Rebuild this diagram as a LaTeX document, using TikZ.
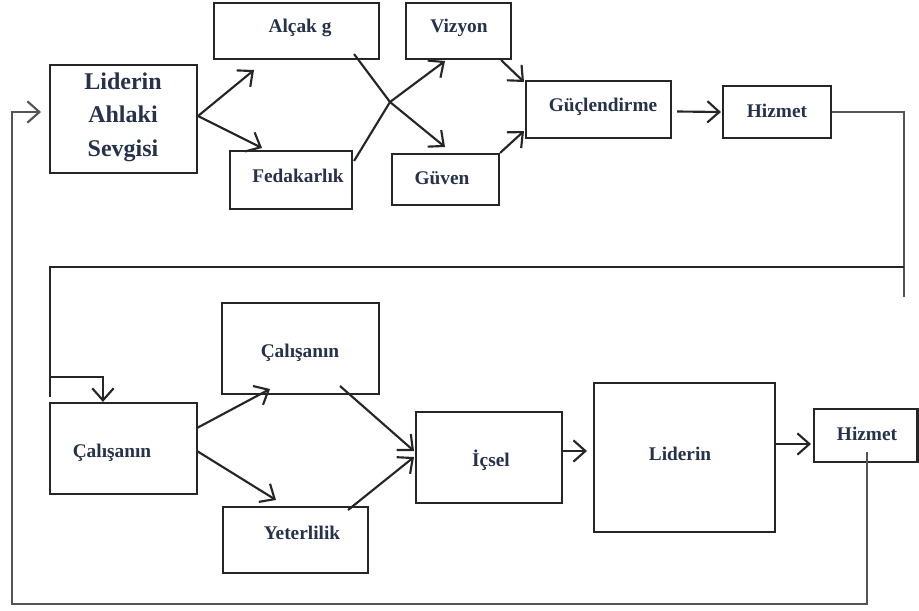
\documentclass[tikz,border=0pt]{standalone}
\usepackage{fontspec}
\setmainfont{Liberation Serif}
\usetikzlibrary{arrows.meta,fit,calc}
\definecolor{boxcol}{HTML}{262626}
\definecolor{loopcol}{HTML}{555555}
\definecolor{txtcol}{HTML}{26324A}
\begin{document}
\begin{tikzpicture}[x=0.75pt,y=-0.75pt,
  box/.style={draw=boxcol, line width=1.6pt, inner sep=0pt, fit={#1}},
  lbl/.style={text=txtcol, font=\fontsize{14.5}{17}\selectfont\bfseries, inner sep=0pt},
  biglbl/.style={text=txtcol, font=\fontsize{18}{25}\selectfont\bfseries, inner sep=0pt, align=center},
  arr/.style={draw=boxcol, line width=1.6pt, -{Straight Barb[length=9pt,width=16pt,line width=1.6pt]}},
  ln/.style={draw=boxcol, line width=1.6pt},
  loop/.style={draw=loopcol, line width=1.9pt},
  looparr/.style={draw=loopcol, line width=1.9pt, -{Straight Barb[length=9pt,width=16pt,line width=1.6pt]}}
]
\useasboundingbox (0,0) rectangle (919,610);
\fill[white] (0,0) rectangle (919,610);

% boxes
\node[box={(50,65) (197,173)}] (lider) {};
\node[box={(214,3) (379,59)}] (alcak) {};
\node[box={(230,151) (352,209)}] (feda) {};
\node[box={(406,3) (511,59)}] (vizyon) {};
\node[box={(392,154) (499,205)}] (guven) {};
\node[box={(526,81) (671,138)}] (guc) {};
\node[box={(723,86) (831,138)}] (hizmetA) {};
\node[box={(50,403) (197,494)}] (calA) {};
\node[box={(222,303) (379,394)}] (calB) {};
\node[box={(223,507) (368,573)}] (yeter) {};
\node[box={(416,412) (562,503)}] (icsel) {};
\node[box={(594,383) (775,532)}] (liderB) {};
\node[box={(814,409) (917.5,462)}] (hizmetB) {};

% labels
\node[biglbl] (liderT) at (123,117) {Liderin\\Ahlaki\\Sevgisi};
\node[lbl] (alcakT) at (300,28) {Alçak g};
\node[lbl] (fedaT) at (298,176) {Fedakarlık};
\node[lbl] (vizyonT) at (459,28) {Vizyon};
\node[lbl] (guvenT) at (442,178) {Güven};
\node[lbl] (gucT) at (603,107) {Güçlendirme};
\node[lbl] (hizmetAT) at (777,111) {Hizmet};
\node[lbl] (calAT) at (112,453) {Çalışanın};
\node[lbl] (calBT) at (300,353) {Çalışanın};
\node[lbl] (yeterT) at (302,533) {Yeterlilik};
\node[lbl] (icselT) at (491,460) {İçsel};
\node[lbl] (liderBT) at (680,454) {Liderin};
\node[lbl] (hizmetBT) at (867,434) {Hizmet};

% named points
\coordinate (src1) at ($(lider.east)+(0,-3)$);
\coordinate (tAlcak) at (254,70);
\coordinate (tFeda) at (262,148);
\coordinate (oAlcak) at ($(alcak.south east)+(-26,-6)$);
\coordinate (oFeda) at ($(feda.north east)+(1,11)$);
\coordinate (X) at (390,102);
\coordinate (tViz) at (445,61);
\coordinate (tGuv) at (445,147);
\coordinate (oViz) at ($(vizyon.south east)+(-11,0)$);
\coordinate (oGuv) at (guven.north east);
\coordinate (tGuc1) at (524,82);
\coordinate (tGuc2) at (524,131);
\coordinate (oGuc) at ($(guc.east)+(5,2)$);
\coordinate (tHiz) at ($(hizmetA.west)+(-1,0)$);
\coordinate (R1) at (904,112);
\coordinate (R2) at (904,297);
\coordinate (H1) at (904,267);
\coordinate (H2) at (50,267);
\coordinate (H3) at (50,397);
\coordinate (B1) at (50,377);
\coordinate (B2) at ($(calA.north west)+(54,-26)$);
\coordinate (oCalA1) at (197,428);
\coordinate (oCalA2) at (197,451);
\coordinate (tCalB) at (270,389);
\coordinate (tYet) at (276,500);
\coordinate (oCalB) at (340,386);
\coordinate (oYet) at (348,510);
\coordinate (tIc1) at (414,451);
\coordinate (tIc2) at (414,457);
\coordinate (oIc) at (562,451);
\coordinate (tLid) at (587,451);
\coordinate (oLid) at (775,444);
\coordinate (tHizB) at (811,444);
\coordinate (oHizB) at (867,452);
\coordinate (L1) at (867,604);
\coordinate (L2) at (12,604);
\coordinate (L3) at (12,112);
\coordinate (tLider) at (41,112);

% top connectors
\draw[arr] (src1) -- (tAlcak);
\draw[arr] (src1) -- (tFeda);
\draw[ln] (oAlcak) -- (X);
\draw[ln] (oFeda) -- (X);
\draw[arr] (X) -- (tViz);
\draw[arr] (X) -- (tGuv);
\draw[arr] (oViz) -- (tGuc1);
\draw[arr] (oGuv) -- (tGuc2);
\draw[arr] (oGuc) -- (tHiz);

% link between rows
\draw[loop] (hizmetA.east |- R1) -- (R1) -- (R2);
\draw[ln] (H1) -- (H2) -- (H3);
\draw[arr] (B1) -- (B2 |- B1) -- (B2 |- calA.north);

% bottom connectors
\draw[arr] (oCalA1) -- (tCalB);
\draw[arr] (oCalA2) -- (tYet);
\draw[arr] (oCalB) -- (tIc1);
\draw[arr] (oYet) -- (tIc2);
\draw[arr] (oIc) -- (tLid);
\draw[arr] (oLid) -- (tHizB);

% feedback loop
\draw[looparr] (oHizB) -- (L1) -- (L2) -- (L3) -- (tLider);
\end{tikzpicture}
\end{document}
